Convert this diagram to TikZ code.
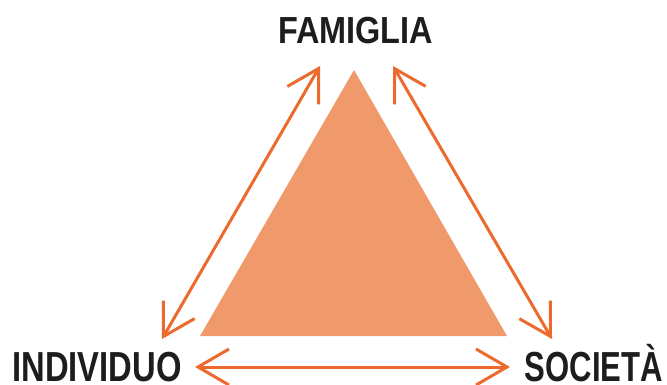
\documentclass[tikz,border=0pt]{standalone}
\usepackage{fontspec}
\setmainfont{Liberation Sans}
\usetikzlibrary{arrows.meta}
\definecolor{trifill}{HTML}{F0996B}
\definecolor{arrowline}{HTML}{EC6A2E}
\definecolor{labeltext}{HTML}{1D1D1B}
\tikzset{
  link/.style={draw=arrowline, line width=3pt,
    {Straight Barb[length=31pt,width=36pt]}-{Straight Barb[length=31pt,width=36pt]}},
  label/.style={text=labeltext, font=\bfseries, inner sep=0pt, anchor=base},
}
\begin{document}
\begin{tikzpicture}[x=1pt,y=-1pt]
  \useasboundingbox (0,0) rectangle (667,384);

  % central triangle
  \fill[trifill] (354,70) -- (507,336) -- (200,336) -- cycle;

  % labels at the corners
  \node[label] (fam) at (355.5,43)
    {\fontsize{37.7pt}{40pt}\selectfont\scalebox{0.86}[1]{FAMIGLIA}};
  \node[label] (ind) at (97,381)
    {\fontsize{42pt}{45pt}\selectfont\scalebox{0.78}[1]{INDIVIDUO}};
  \node[label] (soc) at (594,381)
    {\fontsize{42pt}{45pt}\selectfont\scalebox{0.74}[1]{SOCIETÀ}};

  % arrow ends
  \coordinate (lt) at (320,66);
  \coordinate (lb) at (162,339);
  \coordinate (rt) at (393,66);
  \coordinate (rb) at (552,339);
  \coordinate (bl) at (195,367);
  \coordinate (br) at (510,367);

  % two-way arrows along the sides
  \draw[link] (lb) -- (lt);
  \draw[link] (rt) -- (rb);
  \draw[link] (bl) -- (br);
\end{tikzpicture}
\end{document}
